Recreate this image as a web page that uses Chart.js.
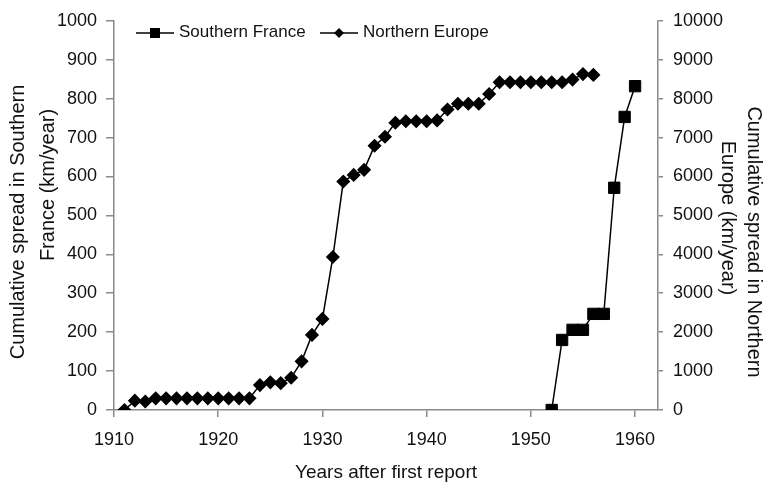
<!DOCTYPE html>
<html>
<head>
<meta charset="utf-8">
<script src="https://cdn.jsdelivr.net/npm/chart.js@4.4.0/dist/chart.umd.min.js"></script>
<style>
  html, body { margin: 0; padding: 0; background: #fff; }
  #contenedor { width: 765px; height: 485px; }
</style>
</head>
<body>
<div id="contenedor"><canvas id="grafico"></canvas></div>
<script>
// datos
const anosFrancia = [1952, 1953, 1954, 1955, 1956, 1957, 1958, 1959, 1960];
const valoresFrancia = [0, 180, 206, 206, 247, 247, 571, 753, 832];

const anosEuropa = [
  1911, 1912, 1913, 1914, 1915, 1916, 1917, 1918, 1919, 1920,
  1921, 1922, 1923, 1924, 1925, 1926, 1927, 1928, 1929, 1930,
  1931, 1932, 1933, 1934, 1935, 1936, 1937, 1938, 1939, 1940,
  1941, 1942, 1943, 1944, 1945, 1946, 1947, 1948, 1949, 1950,
  1951, 1952, 1953, 1954, 1955, 1956
];
const valoresEuropa = [
  0, 240, 220, 300, 300, 300, 300, 300, 300, 300,
  300, 300, 300, 640, 710, 690, 830, 1250, 1930, 2340,
  3930, 5870, 6040, 6170, 6790, 7020, 7380, 7420, 7420, 7420,
  7440, 7720, 7870, 7870, 7870, 8120, 8420, 8420, 8420, 8420,
  8420, 8420, 8420, 8490, 8630, 8610
];

const ticksX = [1910, 1920, 1930, 1940, 1950, 1960];
const etiquetaFrancia = 'Southern France';
const etiquetaEuropa = 'Northern Europe';
const tituloX = 'Years after first report';
const tituloIzq = ['Cumulative spread in Southern', 'France (km/year)'];
const tituloDer = ['Cumulative spread in Northern', 'Europe (km/year)'];

const FUENTE = '"Liberation Sans", Arial, sans-serif';
const GRIS = '#8a8a8a';
const NEGRO = '#111';

function textoGirado(ctx, texto, x, y, angulo) {
  ctx.save();
  ctx.translate(x, y);
  ctx.rotate(angulo);
  ctx.fillText(texto, 0, 0);
  ctx.restore();
}

function muestraLeyenda(ctx, x, y, estilo, etiqueta) {
  ctx.strokeStyle = '#000';
  ctx.fillStyle = '#000';
  ctx.lineWidth = 1.5;
  ctx.beginPath();
  ctx.moveTo(x, y);
  ctx.lineTo(x + 38, y);
  ctx.stroke();
  const cx = x + 19;
  if (estilo === 'rect') {
    ctx.fillRect(cx - 5, y - 5, 10, 10);
  } else {
    ctx.beginPath();
    ctx.moveTo(cx - 5, y);
    ctx.lineTo(cx, y - 5);
    ctx.lineTo(cx + 5, y);
    ctx.lineTo(cx, y + 5);
    ctx.closePath();
    ctx.fill();
  }
  ctx.fillStyle = NEGRO;
  ctx.textAlign = 'left';
  ctx.fillText(etiqueta, x + 43, y - 1);
}

// leyenda dentro del area y titulos de los ejes verticales
const textosExtra = {
  id: 'textosExtra',
  afterDraw(chart) {
    const ctx = chart.ctx;
    ctx.save();
    ctx.textBaseline = 'middle';

    ctx.font = `17px ${FUENTE}`;
    muestraLeyenda(ctx, 136, 33, 'rect', etiquetaFrancia);
    muestraLeyenda(ctx, 320, 33, 'rectRot', etiquetaEuropa);

    ctx.font = `20px ${FUENTE}`;
    ctx.fillStyle = NEGRO;
    ctx.textAlign = 'center';
    textoGirado(ctx, tituloIzq[0], 18, 222, -Math.PI / 2);
    textoGirado(ctx, tituloIzq[1], 48, 185, -Math.PI / 2);
    textoGirado(ctx, tituloDer[0], 754, 242, Math.PI / 2);
    textoGirado(ctx, tituloDer[1], 728, 218, Math.PI / 2);
    ctx.restore();
  }
};

function ejeBase(extra) {
  return Object.assign({
    grid: { drawOnChartArea: false, tickLength: 8, color: GRIS, lineWidth: 1.5 },
    border: { color: GRIS, width: 1.5 }
  }, extra);
}

new Chart(document.getElementById('grafico'), {
  type: 'line',
  data: {
    datasets: [
      {
        label: etiquetaFrancia,
        data: anosFrancia.map((a, i) => ({ x: a, y: valoresFrancia[i] })),
        yAxisID: 'y',
        borderColor: '#000',
        backgroundColor: '#000',
        borderWidth: 1.5,
        tension: 0,
        pointStyle: 'rect',
        pointRadius: 8,
        pointBorderWidth: 1
      },
      {
        label: etiquetaEuropa,
        data: anosEuropa.map((a, i) => ({ x: a, y: valoresEuropa[i] })),
        yAxisID: 'y2',
        borderColor: '#000',
        backgroundColor: '#000',
        borderWidth: 1.5,
        tension: 0,
        pointStyle: 'rectRot',
        pointRadius: 6,
        pointBorderWidth: 1.5
      }
    ]
  },
  options: {
    responsive: true,
    maintainAspectRatio: false,
    animation: false,
    layout: { padding: { top: 18, left: 0, right: 0, bottom: 0 } },
    plugins: {
      legend: { display: false },
      tooltip: { enabled: false }
    },
    scales: {
      x: ejeBase({
        type: 'linear',
        position: 'bottom',
        min: 1910,
        max: 1962.2,
        afterBuildTicks: s => { s.ticks = ticksX.map(v => ({ value: v })); },
        afterFit: s => { s.height = 75; },
        grid: { drawOnChartArea: false, tickLength: 7, color: GRIS, lineWidth: 1.5 },
        ticks: {
          color: NEGRO,
          padding: 12,
          maxRotation: 0,
          font: { family: FUENTE, size: 18 },
          callback: v => String(v)
        },
        title: {
          display: true,
          text: tituloX,
          color: NEGRO,
          font: { family: FUENTE, size: 19 },
          padding: { top: 0, bottom: 1 }
        }
      }),
      y: ejeBase({
        position: 'left',
        min: 0,
        max: 1000,
        afterFit: s => { s.width = 114; },
        ticks: {
          stepSize: 100,
          color: NEGRO,
          padding: 9,
          font: { family: FUENTE, size: 18 },
          callback: v => String(v)
        }
      }),
      y2: ejeBase({
        position: 'right',
        min: 0,
        max: 10000,
        afterFit: s => { s.width = 107; },
        grid: { drawOnChartArea: false, tickLength: 5, color: GRIS, lineWidth: 1.5 },
        ticks: {
          stepSize: 1000,
          color: NEGRO,
          padding: 10,
          font: { family: FUENTE, size: 18 },
          callback: v => String(v)
        }
      })
    }
  },
  plugins: [textosExtra]
});
</script>
</body>
</html>
